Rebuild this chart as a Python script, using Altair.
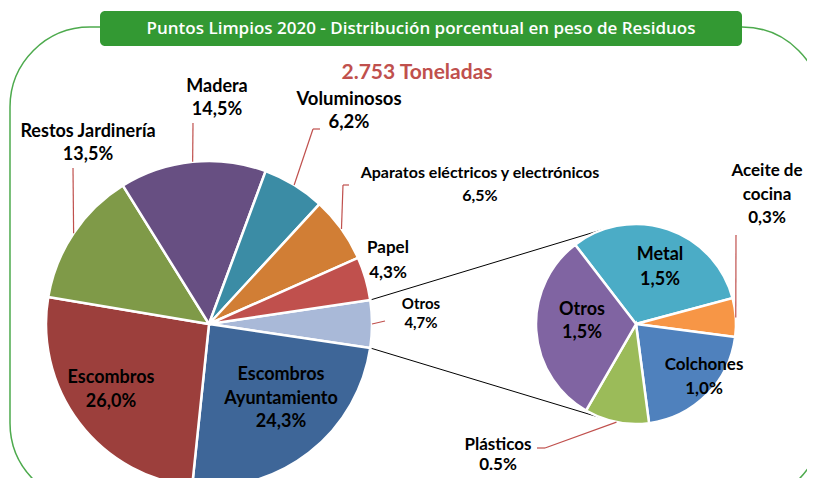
import math
import altair as alt
import pandas as pd

# ---------------- data ----------------
title_text = "Puntos Limpios 2020 - Distribución porcentual en peso de Residuos"
total_text = "2.753 Toneladas"

main_categories = ["Otros", "Escombros Ayuntamiento", "Escombros", "Restos Jardinería",
                   "Madera", "Voluminosos", "Aparatos eléctricos y electrónicos", "Papel"]
main_values = [4.7, 24.3, 26.0, 13.5, 14.5, 6.2, 6.5, 4.3]
main_pct_text = ["4,7%", "24,3%", "26,0%", "13,5%", "14,5%", "6,2%", "6,5%", "4,3%"]
main_colors = ["#A9B9D8", "#3E6698", "#9C3F3C", "#7F9A48", "#674F82", "#3B8CA5", "#D17E35", "#C0504D"]

sub_categories = ["Metal", "Aceite de cocina", "Colchones", "Plásticos", "Otros"]
sub_values = [1.5, 0.3, 1.0, 0.5, 1.5]
sub_pct_text = ["1,5%", "0,3%", "1,0%", "0.5%", "1,5%"]
sub_colors = ["#4BACC6", "#F79646", "#4F81BD", "#9BBB59", "#8064A2"]

# ---------------- layout ----------------
W, H = 799, 470
FONT = "Lato"
MAIN_C, MAIN_R = (201, 316), 163
SUB_C, SUB_R = (628, 316), 100
SUB_START = -37.5
MAIN_START = 90 - main_values[0] / sum(main_values) * 180  # "Otros" centred at the right

# name lines, first-line centre, line height, font size
main_label_lines = [["Otros"], ["Escombros", "Ayuntamiento"], ["Escombros"], ["Restos Jardinería"],
                    ["Madera"], ["Voluminosos"], ["Aparatos eléctricos y electrónicos"], ["Papel"]]
main_label_pos = [(413, 296), (273, 367), (103, 370), (80, 124), (209, 79), (341, 91), (472, 165), (380, 240)]
main_label_lh = [19, 23.5, 24, 23, 23, 23, 23, 25]
main_label_fs = [15, 18, 18, 18, 18, 18.5, 16, 17]

sub_label_lines = [["Metal"], ["Aceite de", "cocina"], ["Colchones"], ["Plásticos"], ["Otros"]]
sub_label_pos = [(652, 247), (759, 163), (696, 357), (490, 437), (574, 302)]
sub_label_lh = [25, 23.5, 24, 20, 23]
sub_label_fs = [18, 17, 17, 17, 18]

# leader lines: slice index -> elbow points (from slice edge mid-angle)
main_leaders = {0: [(377, 313)], 3: [(65, 160)], 4: [(185, 115)],
                5: [(305, 121), (312, 121)], 6: [(335, 177), (341, 177)]}
sub_leaders = {1: [(728, 227)], 3: [(537, 440), (529, 440)]}


def spans(values, start):
    tot = sum(values)
    out, a = [], start
    for v in values:
        s = v / tot * 360
        out.append((a, a + s))
        a += s
    return out


def edge(c, r, deg):
    t = math.radians(deg)
    return c[0] + r * math.sin(t), c[1] - r * math.cos(t)


def pie(cats, vals, cols, start, c, r):
    df = pd.DataFrame({"cat": cats, "value": vals, "idx": list(range(len(cats))), "col": cols})
    s = math.radians(start)
    return alt.Chart(df).mark_arc(radius=r, stroke="white", strokeWidth=2.5).encode(
        x=alt.value(c[0]), y=alt.value(c[1]),
        theta=alt.Theta("value:Q", stack=True, scale=alt.Scale(range=[s, s + 2 * math.pi])),
        color=alt.Color("col:N", scale=None, legend=None),
        order=alt.Order("idx:Q"),
    )


def label_rows(lines, pos, lh, fs, pct):
    rows = []
    for ls, (x, y), h, f, p in zip(lines, pos, lh, fs, pct):
        for i, t in enumerate(ls + [p]):
            rows.append({"t": t, "x": x, "y": y + i * h, "fs": f})
    return rows


def leader_rows(leaders, sp, c, r):
    rows = []
    for i, pts in leaders.items():
        a0, a1 = sp[i]
        p = edge(c, r, (a0 + a1) / 2)
        for q in pts:
            rows.append({"x": p[0], "y": p[1], "x2": q[0], "y2": q[1]})
            p = q
    return rows


main_sp = spans(main_values, MAIN_START)
sub_sp = spans(sub_values, SUB_START)

# connector lines between "Otros" slice and the secondary pie
o0, o1 = main_sp[0]
conn = []
for a_main, a_sub in [(o0, -17.5), (o1, 199)]:
    p = edge(MAIN_C, MAIN_R, a_main)
    q = edge(SUB_C, SUB_R, a_sub)
    conn.append({"x": p[0], "y": p[1], "x2": q[0], "y2": q[1]})

XS = dict(scale=None, axis=None)
frame = alt.Chart(pd.DataFrame({"a": [0]})).mark_rect(
    fillOpacity=0, stroke="#4DAA4D", strokeWidth=1.5, cornerRadius=80
).encode(x=alt.value(2), x2=alt.value(814), y=alt.value(19), y2=alt.value(495))

banner = alt.Chart(pd.DataFrame({"a": [0]})).mark_rect(
    fill="#339933", cornerRadius=5
).encode(x=alt.value(92), x2=alt.value(734), y=alt.value(3), y2=alt.value(38))

title = alt.Chart(pd.DataFrame({"t": [title_text]})).mark_text(
    font="Open Sans", fontWeight=600, fontSize=17, color="white", baseline="middle", align="center"
).encode(x=alt.value(413), y=alt.value(20.5), text="t:N")

total = alt.Chart(pd.DataFrame({"t": [total_text]})).mark_text(
    font=FONT, fontWeight="bold", fontSize=21, color="#C0504D", baseline="middle", align="center"
).encode(x=alt.value(409), y=alt.value(65), text="t:N")

connectors = alt.Chart(pd.DataFrame(conn)).mark_rule(color="black", strokeWidth=1).encode(
    x=alt.X("x:Q", **XS), y=alt.Y("y:Q", **XS), x2="x2:Q", y2="y2:Q")

leaders = alt.Chart(pd.DataFrame(
    leader_rows(main_leaders, main_sp, MAIN_C, MAIN_R) + leader_rows(sub_leaders, sub_sp, SUB_C, SUB_R)
)).mark_rule(color="#C0504D", strokeWidth=1.2).encode(
    x=alt.X("x:Q", **XS), y=alt.Y("y:Q", **XS), x2="x2:Q", y2="y2:Q")

labels = alt.Chart(pd.DataFrame(
    label_rows(main_label_lines, main_label_pos, main_label_lh, main_label_fs, main_pct_text)
    + label_rows(sub_label_lines, sub_label_pos, sub_label_lh, sub_label_fs, sub_pct_text)
)).mark_text(font=FONT, fontWeight="bold", color="black", baseline="middle", align="center").encode(
    x=alt.X("x:Q", **XS), y=alt.Y("y:Q", **XS), text="t:N", size=alt.Size("fs:Q", scale=None, legend=None))

main_pie = pie(main_categories, main_values, main_colors, MAIN_START, MAIN_C, MAIN_R)
sub_pie = pie(sub_categories, sub_values, sub_colors, SUB_START, SUB_C, SUB_R)

chart = alt.layer(
    frame, banner, title, total, connectors, main_pie, sub_pie, leaders, labels
).resolve_scale(theta="independent").properties(
    width=W, height=H, padding=0, autosize=alt.AutoSizeParams(type="none"), background="white"
).configure_view(stroke=None)

chart.save("out.html", embed_options={"renderer": "svg", "actions": False})
